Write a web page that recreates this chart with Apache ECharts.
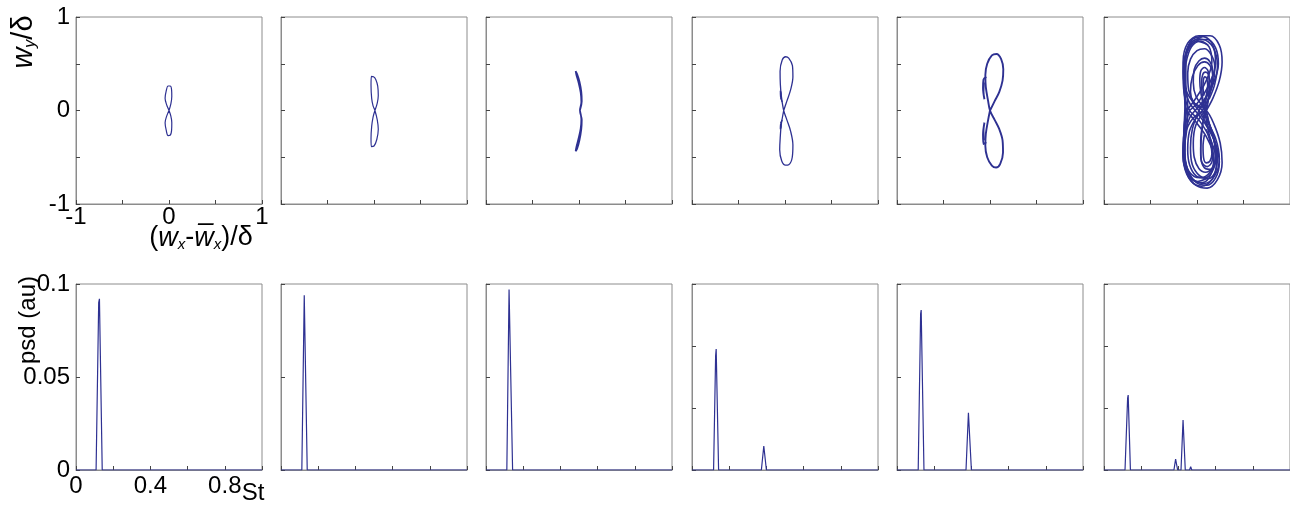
<!DOCTYPE html>
<html>
<head>
<meta charset="utf-8">
<script src="https://cdn.jsdelivr.net/npm/echarts/dist/echarts.min.js"></script>
<style>
html, body { margin: 0; padding: 0; background: #fff; }
#box { width: 1290px; height: 511px; }
</style>
</head>
<body>
<div id="box"></div>
<script>
// ---- data ----
// phase portraits (w_x - mean)/delta vs w_y/delta, one list of loops per panel
var phase1 = [[0,0],[0.02,0.07],[0.03,0.15],[0.028,0.22],[0.012,0.262],[-0.01,0.262],[-0.03,0.21],[-0.042,0.13],[-0.025,0.06],[0,0],
  [0.02,-0.06],[0.03,-0.13],[0.028,-0.21],[0.012,-0.265],[-0.01,-0.268],[-0.03,-0.21],[-0.042,-0.13],[-0.025,-0.06],[0,0]];
var phase2 = [[0.01,0],[0.035,0.08],[0.046,0.16],[0.04,0.26],[0.02,0.33],[-0.005,0.36],[-0.028,0.364],[-0.032,0.27],[-0.025,0.13],[-0.01,0.05],[0.01,0],
  [0.035,-0.1],[0.046,-0.2],[0.03,-0.31],[0,-0.38],[-0.029,-0.386],[-0.032,-0.3],[-0.025,-0.17],[-0.01,-0.07],[0.01,0]];
var phase3 = [[0.01,0],[0.03,0.1],[0.025,0.2],[0.005,0.31],[-0.02,0.39],[-0.036,0.42],[-0.028,0.38],[-0.005,0.3],[0.018,0.19],[0.025,0.09],[0.01,0],
  [0.03,-0.1],[0.025,-0.2],[0.005,-0.32],[-0.02,-0.41],[-0.036,-0.435],[-0.028,-0.39],[-0.005,-0.3],[0.018,-0.19],[0.025,-0.09],[0.01,0]];
var phase4 = [[-0.014,0],[0.02,0.1],[0.06,0.22],[0.085,0.36],[0.08,0.48],[0.04,0.56],[0.007,0.575],[-0.03,0.54],[-0.053,0.42],[-0.05,0.28],[-0.04,0.16],[-0.014,0],
  [0.02,-0.1],[0.06,-0.22],[0.085,-0.37],[0.078,-0.5],[0.04,-0.58],[0.005,-0.585],[-0.035,-0.54],[-0.057,-0.42],[-0.05,-0.27],[-0.04,-0.15],[-0.014,0]];
var phase4Knot = [[-0.03,0.09],[-0.048,0.15],[-0.05,0.21],[-0.042,0.18],[-0.046,0.12]];
var phase4Knot2 = [[-0.03,-0.1],[-0.048,-0.15],[-0.05,-0.2],[-0.042,-0.17],[-0.046,-0.12]];
var phase5 = [[0,0],[0.05,0.1],[0.1,0.2],[0.135,0.32],[0.143,0.44],[0.12,0.55],[0.07,0.605],[0.02,0.59],[-0.03,0.5],[-0.05,0.38],[-0.045,0.25],[-0.02,0.1],[0,0],
  [0.05,-0.1],[0.1,-0.2],[0.135,-0.32],[0.14,-0.45],[0.11,-0.57],[0.065,-0.61],[0.02,-0.59],[-0.03,-0.5],[-0.05,-0.38],[-0.045,-0.25],[-0.02,-0.1],[0,0]];
var phase5Knot = [[-0.04,0.36],[-0.07,0.33],[-0.075,0.24],[-0.06,0.12],[-0.07,0.2],[-0.065,0.3]];
var phase5Knot2 = [[-0.04,-0.34],[-0.07,-0.36],[-0.075,-0.26],[-0.06,-0.13],[-0.07,-0.22],[-0.065,-0.32]];
// last panel: irregular trajectory, traced as a set of loops and strands
var orbitA = [[0.1,0],[0.17,0.13],[0.24,0.32],[0.27,0.52],[0.24,0.7],[0.14,0.8],[0.02,0.8],[-0.1,0.72],[-0.15,0.52],[-0.14,0.3],[-0.05,0.1],[0.1,0],
  [0.18,-0.14],[0.25,-0.35],[0.27,-0.56],[0.22,-0.74],[0.11,-0.83],[-0.01,-0.8],[-0.11,-0.68],[-0.15,-0.48],[-0.13,-0.26],[-0.04,-0.08],[0.1,0]];
var orbitB = [[-0.02,0],[0.08,0.12],[0.18,0.3],[0.23,0.5],[0.2,0.67],[0.11,0.76],[0,0.76],[-0.09,0.68],[-0.13,0.5],[-0.13,0.28],[-0.09,0.1],[-0.02,0],
  [0.08,-0.13],[0.19,-0.33],[0.24,-0.55],[0.2,-0.72],[0.1,-0.8],[-0.01,-0.77],[-0.1,-0.64],[-0.13,-0.44],[-0.12,-0.22],[-0.08,-0.08],[-0.02,0]];
var orbitC = [[0.06,0],[0.13,0.15],[0.18,0.33],[0.19,0.48],[0.15,0.6],[0.08,0.66],[0,0.64],[-0.07,0.55],[-0.1,0.4],[-0.09,0.22],[-0.03,0.08],[0.06,0],
  [0.14,-0.16],[0.19,-0.36],[0.2,-0.52],[0.16,-0.66],[0.08,-0.72],[-0.01,-0.7],[-0.08,-0.58],[-0.1,-0.42],[-0.08,-0.22],[-0.01,-0.08],[0.06,0]];
var orbitD = [[0.09,0],[0.13,0.15],[0.16,0.3],[0.17,0.42],[0.14,0.52],[0.08,0.56],[0.02,0.53],[-0.03,0.44],[-0.04,0.3],[-0.01,0.15],[0.09,0],
  [0.14,-0.17],[0.19,-0.35],[0.2,-0.5],[0.16,-0.62],[0.09,-0.66],[0.02,-0.62],[-0.03,-0.5],[-0.04,-0.35],[-0.01,-0.15],[0.09,0]];
var orbitE = [[0.08,0],[0.11,0.2],[0.13,0.32],[0.12,0.42],[0.08,0.46],[0.04,0.42],[0.03,0.32],[0.04,0.2],[0.08,0],
  [0.13,-0.25],[0.17,-0.42],[0.16,-0.55],[0.11,-0.6],[0.05,-0.55],[0.04,-0.42],[0.05,-0.25],[0.08,0]];
var orbitF = [[-0.08,0],[0.02,0.1],[0.13,0.28],[0.2,0.5],[0.17,0.7],[0.07,0.79],[-0.05,0.76],[-0.12,0.62],[-0.15,0.42],[-0.14,0.2],[-0.08,0],
  [0.02,-0.1],[0.14,-0.3],[0.21,-0.55],[0.16,-0.74],[0.05,-0.81],[-0.06,-0.76],[-0.13,-0.6],[-0.15,-0.4],[-0.13,-0.18],[-0.08,0]];
var orbitG = [[0.1,0],[0.12,0.1],[0.13,0.22],[0.135,0.32],[0.12,0.39],[0.09,0.41],[0.06,0.38],[0.05,0.3],[0.055,0.18],[0.07,0.08],[0.1,0],
  [0.13,-0.15],[0.18,-0.3],[0.21,-0.45],[0.19,-0.58],[0.13,-0.63],[0.07,-0.6],[0.04,-0.48],[0.04,-0.32],[0.06,-0.15],[0.1,0]];
var orbitH = [[0.02,0],[0.09,0.12],[0.15,0.26],[0.17,0.38],[0.14,0.48],[0.08,0.52],[0.01,0.48],[-0.05,0.36],[-0.07,0.2],[-0.04,0.08],[0.02,0],
  [0.1,-0.14],[0.18,-0.3],[0.22,-0.48],[0.2,-0.65],[0.12,-0.73],[0.03,-0.7],[-0.05,-0.58],[-0.07,-0.4],[-0.05,-0.2],[0.02,0]];
var orbitI = [[-0.11,0],[-0.02,0.12],[0.09,0.3],[0.16,0.52],[0.13,0.68],[0.04,0.74],[-0.06,0.68],[-0.12,0.5],[-0.14,0.3],[-0.13,0.12],[-0.11,0],
  [-0.03,-0.1],[0.1,-0.28],[0.18,-0.5],[0.15,-0.68],[0.06,-0.77],[-0.04,-0.74],[-0.11,-0.6],[-0.14,-0.42],[-0.14,-0.2],[-0.11,0]];
var orbitJ = [[0.05,0.78],[-0.07,0.72],[-0.12,0.55],[-0.12,0.3],[-0.1,0.05],[-0.11,-0.2],[-0.14,-0.45],[-0.12,-0.62],[-0.04,-0.74],[0.08,-0.78],[0.19,-0.7],[0.24,-0.52],[0.2,-0.3],[0.1,-0.1]];
var orbitK = [[0.07,0.06],[0.1,0.16],[0.115,0.27],[0.105,0.34],[0.085,0.36],[0.068,0.32],[0.065,0.24],[0.075,0.16]];
var orbitL = [[0.1,-0.2],[0.14,-0.33],[0.16,-0.46],[0.14,-0.54],[0.1,-0.56],[0.07,-0.5],[0.065,-0.38],[0.08,-0.26]];
var orbitM = [[0.12,0.7],[0,0.74],[-0.1,0.66],[-0.14,0.45],[-0.13,0.2],[-0.12,-0.05],[-0.13,-0.3],[-0.13,-0.5],[-0.08,-0.66],[0.03,-0.72],[0.14,-0.66],[0.2,-0.48],[0.18,-0.28],[0.12,-0.12]];
var orbitN = [[0.12,-0.72],[0,-0.76],[-0.1,-0.68],[-0.15,-0.48],[-0.14,-0.2],[-0.13,0.05],[-0.14,0.3],[-0.13,0.52],[-0.06,0.7],[0.06,0.76],[0.17,0.68],[0.22,0.48],[0.19,0.28],[0.13,0.12]];

// power spectra: [St, psd]
var psd1 = [[0,0],[0.108,0],[0.122,0.09],[0.126,0.092],[0.141,0],[1,0]];
var psd2 = [[0,0],[0.112,0],[0.125,0.094],[0.129,0.095],[0.141,0],[1,0]];
var psd3 = [[0,0],[0.112,0],[0.124,0.097],[0.127,0.098],[0.143,0],[1,0]];
var psd4 = [[0,0],[0.116,0],[0.127,0.046],[0.13,0.0488],[0.143,0],[0.373,0],[0.386,0.0097],[0.4,0],[0.636,0],[0.641,0.0006],[0.646,0],[1,0]];
var psd5 = [[0,0],[0.114,0],[0.127,0.084],[0.13,0.086],[0.145,0],[0.371,0],[0.384,0.0308],[0.4,0],[0.636,0],[0.641,0.001],[0.646,0],[1,0]];
var psd6 = [[0,0],[0.113,0],[0.127,0.029],[0.13,0.0302],[0.142,0],[0.376,0],[0.385,0.0044],[0.396,0],[0.414,0],[0.425,0.0202],[0.437,0],
  [0.46,0],[0.466,0.0013],[0.472,0],[0.68,0],[0.685,0.0004],[0.69,0],[1,0]];

var phaseSets = [[phase1], [phase2], [phase3], [phase4, phase4Knot, phase4Knot2], [phase5, phase5Knot, phase5Knot2],
  [orbitA, orbitB, orbitC, orbitD, orbitE, orbitF, orbitG, orbitH, orbitI, orbitJ, orbitK, orbitL, orbitM, orbitN]];
var psdSets = [psd1, psd2, psd3, psd4, psd5, psd6];
var psdMax = [0.1, 0.1, 0.1, 0.075, 0.1, 0.075];
var psdStep = [0.05, 0.05, 0.05, 0.025, 0.05, 0.025];
var phaseLabels = [-1, 0, 1];
var psdLabels = [0, 0.05, 0.1];
var stLabels = [0, 0.4, 0.8];

// ---- layout ----
var dom = document.getElementById('box');
var myChart = echarts.init(dom);

var lineColor = '#2e3192';
var frameColor = '#8c8c8c';
var fontName = '"Liberation Sans", Arial, sans-serif';
var panelLeft = [76, 281, 486, 692, 897, 1104];
var panelW = 186;

function hasLabel(v, list) {
	return list.some(function(t) { return Math.abs(t - v) < 1e-9; });
}

function axisBase(gridIndex, showLabel, margin, list) {
	return {
		type: 'value',
		gridIndex: gridIndex,
		axisLine: { show: true, onZero: false, lineStyle: { color: frameColor, width: 1 } },
		axisTick: { show: true, inside: true, length: 4, lineStyle: { color: '#444' } },
		splitLine: { show: false },
		axisLabel: {
			show: showLabel,
			margin: margin,
			color: '#000',
			fontSize: 24,
			fontFamily: fontName,
			formatter: function(v) { return hasLabel(v, list) ? String(v) : ''; }
		}
	};
}

var grids = [], xAxes = [], yAxes = [], series = [];
var phaseWidth = [1.2, 1.2, 1.7, 1.3, 1.9, 1.6];

for (var i = 0; i < 6; i++) {
	// top row: phase portraits
	grids.push({ left: panelLeft[i], top: 17, width: panelW, height: 187, show: true, borderColor: frameColor, borderWidth: 1 });
	var xa = axisBase(i, i === 0, 1, phaseLabels);
	xa.min = -1; xa.max = 1; xa.interval = 0.5;
	xAxes.push(xa);
	var ya = axisBase(i, i === 0, 6, phaseLabels);
	ya.min = -1; ya.max = 1; ya.interval = 0.5;
	yAxes.push(ya);
	phaseSets[i].forEach(function(loop) {
		series.push({
			type: 'line', xAxisIndex: i, yAxisIndex: i, data: loop,
			showSymbol: false, symbol: 'none', smooth: 0.35, silent: true,
			lineStyle: { color: lineColor, width: phaseWidth[i] }
		});
	});
}

for (var j = 0; j < 6; j++) {
	// bottom row: spectra
	var k = j + 6;
	grids.push({ left: panelLeft[j], top: 284, width: panelW, height: 186, show: true, borderColor: frameColor, borderWidth: 1 });
	var xb = axisBase(k, j === 0, 4, stLabels);
	xb.min = 0; xb.max = 1; xb.interval = 0.2;
	xAxes.push(xb);
	var yb = axisBase(k, j === 0, 6, psdLabels);
	yb.min = 0; yb.max = psdMax[j]; yb.interval = psdStep[j];
	yAxes.push(yb);
	series.push({
		type: 'line', xAxisIndex: k, yAxisIndex: k, data: psdSets[j],
		showSymbol: false, symbol: 'none', silent: true,
		lineStyle: { color: lineColor, width: 1.2 }
	});
}

var option = {
	animation: false,
	backgroundColor: '#fff',
	textStyle: { fontFamily: fontName },
	grid: grids,
	xAxis: xAxes,
	yAxis: yAxes,
	series: series,
	graphic: [
		{
			type: 'text', x: 24, y: 42, rotation: Math.PI / 2,
			style: {
				text: '{w|w}{s|y}{d|/δ}', align: 'center', verticalAlign: 'middle', fill: '#000',
				rich: {
					w: { fontSize: 29, fontStyle: 'italic', fontFamily: fontName, fill: '#000' },
					s: { fontSize: 16, fontStyle: 'italic', fontFamily: fontName, fill: '#000', verticalAlign: 'bottom', padding: [13, 0, 0, 0] },
					d: { fontSize: 29, fontFamily: fontName, fill: '#000' }
				}
			}
		},
		{
			type: 'text', x: 201, y: 238,
			style: {
				text: '{d|(}{w|w}{s|x}{d|-}{w|w\u0305}{s|x}{d|)/δ}', align: 'center', verticalAlign: 'middle', fill: '#000',
				rich: {
					w: { fontSize: 27, fontStyle: 'italic', fontFamily: fontName, fill: '#000' },
					s: { fontSize: 15, fontStyle: 'italic', fontFamily: fontName, fill: '#000', verticalAlign: 'bottom', padding: [13, 0, 0, 0] },
					d: { fontSize: 27, fontFamily: fontName, fill: '#000' }
				}
			}
		},
		{
			type: 'text', x: 28, y: 320, rotation: Math.PI / 2,
			style: { text: 'psd (au)', align: 'center', verticalAlign: 'middle', fill: '#000', fontSize: 24, fontFamily: fontName }
		},
		{
			type: 'text', x: 253, y: 493,
			style: { text: 'St', align: 'center', verticalAlign: 'middle', fill: '#000', fontSize: 24, fontFamily: fontName }
		}
	]
};

myChart.setOption(option, true);
</script>
</body>
</html>
